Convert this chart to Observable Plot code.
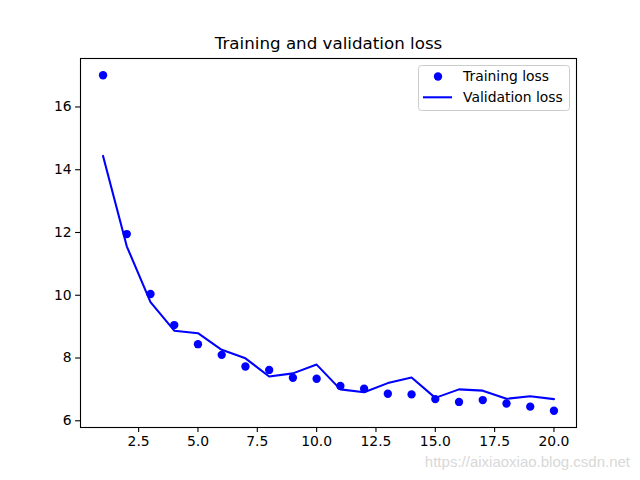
<!DOCTYPE html>
<html><head><meta charset="utf-8">
<script src="https://cdn.jsdelivr.net/npm/d3@7"></script>
<script src="https://cdn.jsdelivr.net/npm/@observablehq/plot@0.6"></script>
<style>body{margin:0;background:#fff}</style>
</head><body><div id="chart"></div>
<script>
const epochs = [1,2,3,4,5,6,7,8,9,10,11,12,13,14,15,16,17,18,19,20];
const trainingLoss = [17.01,11.95,10.04,9.05,8.44,8.10,7.73,7.62,7.37,7.34,7.11,7.02,6.86,6.84,6.69,6.60,6.66,6.55,6.45,6.32];
const validationLoss = [14.44,11.56,9.78,8.87,8.79,8.26,7.99,7.41,7.51,7.79,7.00,6.91,7.20,7.38,6.73,7.00,6.96,6.70,6.78,6.69];
const xTicks = [2.5,5,7.5,10,12.5,15,17.5,20];
const yTicks = [6,8,10,12,14,16];
const title = "Training and validation loss";
const seriesNames = ["Training loss","Validation loss"];
const watermark = "https://aixiaoxiao.blog.csdn.net";

const train = epochs.map((e,i)=>({epoch:e, loss:trainingLoss[i]}));
const val = epochs.map((e,i)=>({epoch:e, loss:validationLoss[i]}));
const all = trainingLoss.concat(validationLoss);
const yMin = d3.min(all), yMax = d3.max(all), yPad = (yMax-yMin)*0.05;
const xPad = (d3.max(epochs)-d3.min(epochs))*0.05;

const chart = Plot.plot({
  width:640, height:480, marginLeft:80, marginRight:64, marginTop:58, marginBottom:53,
  style:{fontFamily:"DejaVu Sans", fontSize:"13.9px", background:"#fff", color:"#000", overflow:"visible"},
  x:{domain:[d3.min(epochs)-xPad, d3.max(epochs)+xPad]},
  y:{domain:[yMin-yPad, yMax+yPad]},
  marks:[
    Plot.axisX({ticks:xTicks, tickFormat:d3.format(".1f"), tickSize:4.9, tickPadding:4, label:null, strokeWidth:1.1}),
    Plot.axisY({ticks:yTicks, tickSize:4.9, tickPadding:4, label:null, strokeWidth:1.1}),
    Plot.dot(train,{x:"epoch", y:"loss", r:4.17, fill:"#0000ff", stroke:"none"}),
    Plot.line(val,{x:"epoch", y:"loss", stroke:"#0000ff", strokeWidth:2.08}),
    Plot.frame({stroke:"#000", strokeWidth:1.1}),
    Plot.text([title],{frameAnchor:"top", lineAnchor:"middle", dy:-14.5, fontSize:16.7})
  ]
});
document.getElementById("chart").appendChild(chart);

// legend (matplotlib style, upper right)
const svg = d3.select(chart);
const lg = svg.append("g").attr("font-family","DejaVu Sans").attr("font-size","13.9px").attr("text-anchor","start");
lg.append("rect").attr("x",418.5).attr("y",65.5).attr("width",151).attr("height",45).attr("rx",3)
  .attr("fill","#fff").attr("fill-opacity",0.8).attr("stroke","#cccccc").attr("stroke-width",1);
lg.append("circle").attr("cx",438).attr("cy",76.5).attr("r",4.17).attr("fill","#0000ff");
lg.append("line").attr("x1",423).attr("x2",452).attr("y1",97.3).attr("y2",97.3).attr("stroke","#0000ff").attr("stroke-width",2.08);
lg.selectAll("text.lab").data(seriesNames).join("text").attr("class","lab")
  .attr("x",463).attr("y",(d,i)=>76.5+i*20.8).attr("dy","0.35em").attr("fill","#000").text(d=>d);

// watermark
svg.append("text").attr("x",630).attr("y",462).attr("dy","0.35em").attr("text-anchor","end")
  .attr("font-family","Liberation Sans").attr("font-size","15px").attr("fill","#d8d8d8").text(watermark);
</script>
</body></html>
